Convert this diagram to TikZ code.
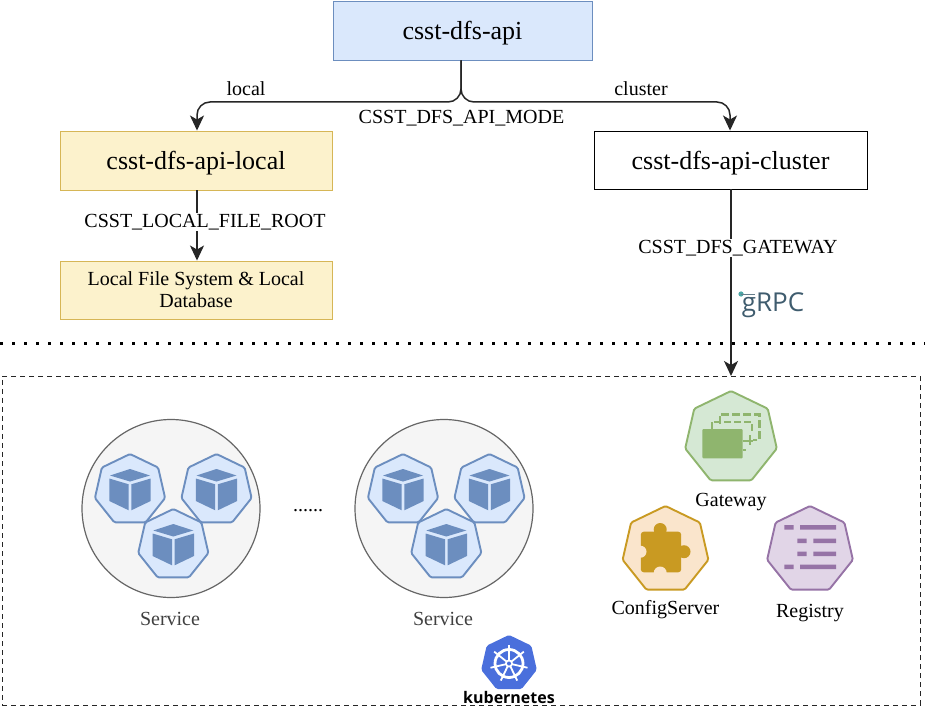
\documentclass[tikz,border=0pt]{standalone}
\usepackage{fontspec}
\setmainfont{Liberation Serif}
\newfontfamily\logofont{Open Sans}
\usetikzlibrary{arrows.meta,shapes.geometric}
\definecolor{blueF}{HTML}{DAE8FC}\definecolor{blueD}{HTML}{6C8EBF}
\definecolor{yelF}{HTML}{FCF2CC}\definecolor{yelD}{HTML}{D6B656}
\definecolor{greenF}{HTML}{D5E8D4}\definecolor{greenD}{HTML}{8FB56E}
\definecolor{orF}{HTML}{FAE5CC}\definecolor{orD}{HTML}{C99A22}
\definecolor{purF}{HTML}{E1D5E7}\definecolor{purD}{HTML}{9673A6}
\definecolor{kube}{HTML}{4A6FDC}\definecolor{grpc}{HTML}{3F5C6E}
\tikzset{
  x=1pt,y=-1pt,
  box/.style={draw,line width=.95pt,inner sep=0pt,text depth=0pt},
  big/.style={font=\fontsize{26}{30}\selectfont},
  lab/.style={font=\fontsize{20}{22}\selectfont,inner sep=1pt},
  conn/.style={draw=black!85,line width=1.5pt,-{Stealth[length=15pt,width=14pt,inset=4pt]}},
  hept/.style={regular polygon,regular polygon sides=7,inner sep=0pt,line width=1.9pt,rounded corners=1.5pt},
  svc/.style={hept,minimum size=72pt,draw=blueD,fill=blueF},
  tool/.style={hept,minimum size=88pt},
  circ/.style={circle,draw=black!60,fill=black!4,line width=1.2pt,minimum size=178pt,inner sep=0pt},
  cube/.pic={
    \fill[blueD] (0,-21)--(-20,-14.5)--(0,-8.5)--(20,-14.5)--cycle;
    \fill[blueD] (-20.7,-11.5)--(-1.3,-5.7)--(-1.3,20.3)--(-20.7,11)--cycle;
    \fill[blueD] (20.7,-11.5)--(1.3,-5.7)--(1.3,20.3)--(20.7,11)--cycle;
  },
  gatewayicon/.pic={
    \draw[greenD,line width=2.4pt,dash pattern=on 8pt off 3pt] (-11,-14)--(-11,-23.7)--(28.3,-23.7)--(28.3,2)--(22,2);
    \draw[greenD,line width=2.4pt,dash pattern=on 7pt off 3pt] (-19.3,-9)--(-19.3,-16.3)--(20.7,-16.3)--(20.7,-6);
    \fill[greenD,rounded corners=1pt] (-28.7,-9) rectangle (11.7,20.3);
    \draw[greenD,line width=2.4pt] (11.7,3)--(22,3) (19,-3)--(19,7) (11.7,12)--(15,12);
  },
  puzzle/.pic={
    \fill[orD,rounded corners=3pt] (-24.7,-18.3) rectangle (15.7,22.3);
    \fill[orD] (-5.3,-20.5) circle[radius=6.5pt];
    \fill[orD] (18.5,1.7) circle[radius=6.5pt];
    \fill[orF] (-25,1.7) circle[radius=6pt];
    \fill[orF] (-5.3,23) circle[radius=6.5pt];
  },
  listicon/.pic={
    \fill[purD] (-25.7,-25) rectangle (-16.3,-20.5) (-10,-25) rectangle (26,-20.5);
    \fill[purD] (-12.7,-11.5) rectangle (-3.3,-7) (3.3,-11.5) rectangle (26,-7);
    \fill[purD] (-12.7,1.5) rectangle (-3.3,6) (3.3,1.5) rectangle (26,6);
    \fill[purD] (-25.7,14.5) rectangle (-16.3,19) (-10,14.5) rectangle (26,19);
  },
  wheel/.pic={
    \draw[white,line width=2.8pt] (0,0) circle[radius=14pt];
    \foreach \a in {90,141.4,192.9,244.3,295.7,347.1,38.6}{
      \draw[white,line width=1.8pt] (0,0)--(\a:19pt);
    }
    \fill[white] (0,0) circle[radius=4pt];
    \fill[kube] (0,0) circle[radius=2pt];
  },
}
\begin{document}
\begin{tikzpicture}
\useasboundingbox (0,0) rectangle (925,708);
\fill[white] (0,0) rectangle (925,708);
% boxes
\node[box,big,draw=blueD,fill=blueF,minimum width=259pt,minimum height=59pt] (api) at (462.5,30.5) {csst-dfs-api};
\node[box,big,draw=yelD,fill=yelF,minimum width=272pt,minimum height=59pt] (local) at (196,160.5) {csst-dfs-api-local};
\node[box,big,draw=black,fill=white,minimum width=273pt,minimum height=58pt] (cluster) at (730.5,160) {csst-dfs-api-cluster};
\node[box,lab,draw=yelD,fill=yelF,minimum width=272pt,minimum height=58pt,align=center,inner sep=0pt] (fs) at (196,290) {Local File System \& Local\\Database};
% separators
\coordinate (dotL) at (0,343);
\coordinate (dotR) at (925,343);
\draw[line width=3pt,dash pattern=on 3pt off 9pt] (dotL)--(dotR);
\node[draw=black!85,line width=.8pt,dash pattern=on 5pt off 4pt,minimum width=918pt,minimum height=329pt,inner sep=0pt] (k8s) at (461,540.5) {};
% connectors
\coordinate (gwin) at (731,376);
\coordinate (busL) at (197,102);
\coordinate (busM) at (461,102);
\coordinate (busR) at (730,102);
\draw[conn,rounded corners=13pt] (api.south -| busM)--(busM)--(busL)--(local.north -| busL);
\draw[conn,rounded corners=13pt] (api.south -| busM)--(busM)--(busR)--(cluster.north -| busR);
\draw[conn] (local.south -| busL)--(fs.north -| busL);
\draw[conn] (cluster.south -| gwin)--(gwin);
% labels
\node[lab] (llocal) at (246,89) {local};
\node[lab] (lcluster) at (641,89) {cluster};
\node[lab] (lmode) at (461.5,118) {CSST\_DFS\_API\_MODE};
\node[lab,fill=white] (lroot) at (205,222) {CSST\_LOCAL\_FILE\_ROOT};
\node[lab,fill=white] (lgate) at (738,248) {CSST\_DFS\_GATEWAY};
% gRPC
\node[font=\logofont\fontsize{26}{28}\selectfont,text=grpc,inner sep=0pt] (grpc) at (773,305) {gRPC};
\fill[teal!70] (741,294) circle[radius=2.6pt];
\draw[grpc!80,line width=.7pt] (741,294)--(755,294);
% services
\foreach \n/\cx in {a/171,b/444}{
  \node[circ] (c\n) at (\cx,508.5) {};
  \node[svc] (s\n1) at (\cx-41,490) {};
  \node[svc] (s\n2) at (\cx+45.5,490) {};
  \node[svc] (s\n3) at (\cx+2.3,545) {};
  \pic at (s\n1) {cube};
  \pic at (s\n2) {cube};
  \pic at (s\n3) {cube};
}
\node[lab,text=black!75] (sa) at (170,619) {Service};
\node[lab,text=black!75] (sb) at (443,619) {Service};
\node[lab] (dots) at (308,511) {......};
% tools
\node[tool,minimum size=94pt,draw=greenD,fill=greenF] (gw) at (731,438) {};
\pic at (gw) {gatewayicon};
\node[lab] (gwl) at (731,502) {Gateway};
\node[tool,draw=orD,fill=orF] (cs) at (665.5,550) {};
\pic at (cs) {puzzle};
\node[lab] (csl) at (665.5,610) {ConfigServer};
\node[tool,draw=purD,fill=purF] (rg) at (810,550) {};
\pic at (rg) {listicon};
\node[lab] (rgl) at (810,613) {Registry};
% kubernetes
\node[hept,minimum size=55pt,fill=kube,draw=kube] (ku) at (509,663.5) {};
\pic at (ku) {wheel};
\node[font=\logofont\bfseries\fontsize{16}{20}\selectfont,inner sep=0pt] (kul) at (509,697) {kubernetes};
\end{tikzpicture}
\end{document}
